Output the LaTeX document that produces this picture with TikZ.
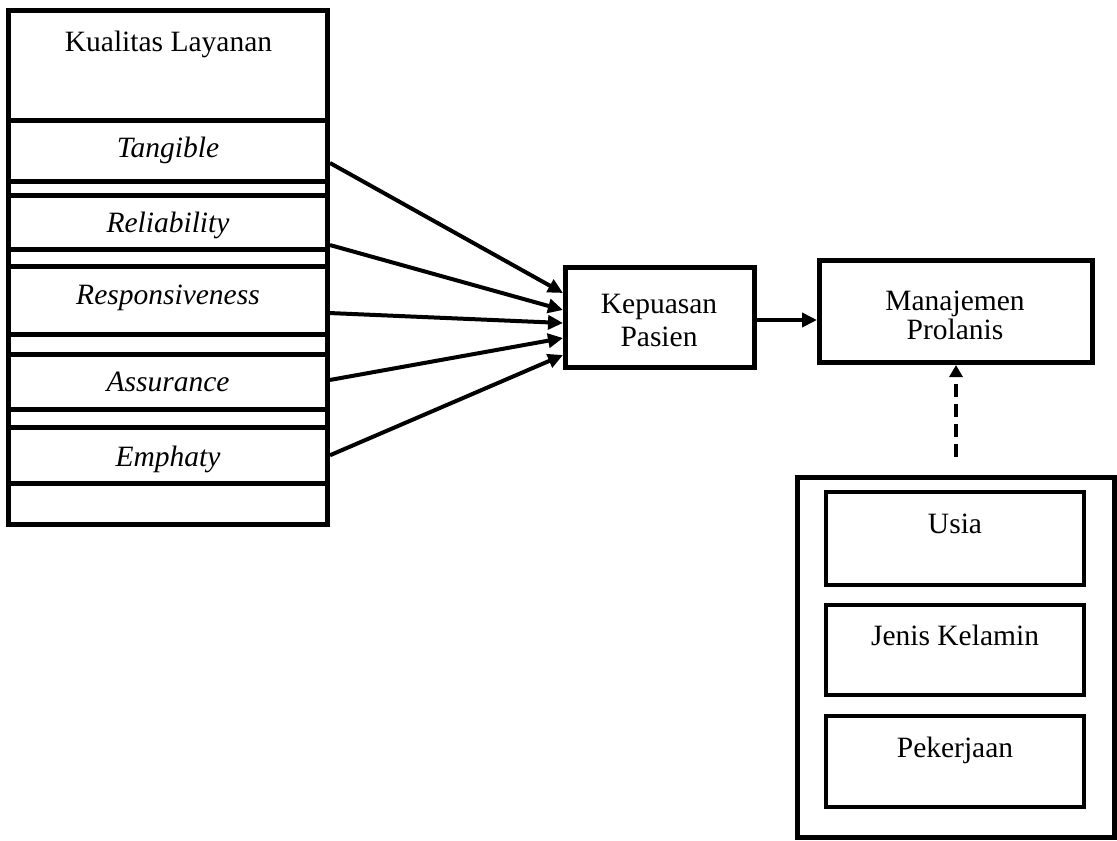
\documentclass[tikz,border=0pt]{standalone}
\usepackage{fontspec}
\setmainfont{Liberation Serif}
\usetikzlibrary{arrows.meta}
\begin{document}
\begin{tikzpicture}[x=0.5pt,y=-0.5pt,
  box/.style={draw,line width=2.5pt,rectangle,inner sep=0pt},
  ibox/.style={draw,line width=2pt,rectangle,inner sep=0pt},
  lbl/.style={anchor=base,inner sep=0pt,font=\fontsize{14.75}{18}\selectfont},
  ilbl/.style={lbl,font=\fontsize{14.75}{18}\selectfont\itshape},
  arr/.style={line width=2pt,-{Triangle[length=7.5pt,width=7pt]}},
  darr/.style={line width=1.75pt,dash pattern=on 6.5pt off 3.5pt,-{Triangle[length=6pt,width=6.5pt]}}]
\useasboundingbox (0,0) rectangle (1117,840);
% left stack
\node[box,minimum width=159.5pt,minimum height=257pt] (kual) at (168,267.5) {};
\node[box,minimum width=159.5pt,minimum height=30.5pt] (tan) at (168,150.5) {};
\node[box,minimum width=159.5pt,minimum height=27.25pt] (rel) at (168,222.25) {};
\node[box,minimum width=159.5pt,minimum height=34.25pt] (res) at (168,300.25) {};
\node[box,minimum width=159.5pt,minimum height=27.75pt] (ass) at (168,381.75) {};
\node[box,minimum width=159.5pt,minimum height=28.25pt] (emp) at (168,455.25) {};
\node[lbl] (kualt) at (168.5,52) {Kualitas Layanan};
\node[ilbl] (tant) at (168,157) {Tangible};
\node[ilbl] (relt) at (168,232.5) {Reliability};
\node[ilbl] (rest) at (168,304) {Responsiveness};
\node[ilbl] (asst) at (168,391.5) {Assurance};
\node[ilbl] (empt) at (168,466) {Emphaty};
% middle
\node[box,minimum width=94.5pt,minimum height=50pt] (kep) at (660,317.5) {};
\node[lbl] (kepa) at (659,313) {Kepuasan};
\node[lbl] (kepb) at (659,346) {Pasien};
\node[box,minimum width=136.5pt,minimum height=51pt] (man) at (956,311.5) {};
\node[lbl] (mana) at (955,310) {Manajemen};
\node[lbl] (manb) at (955,339) {Prolanis};
% right group
\node[box,minimum width=158.5pt,minimum height=180pt] (ctl) at (956,657.5) {};
\node[ibox,minimum width=129.25pt,minimum height=46.25pt] (usia) at (954.75,538.25) {};
\node[ibox,minimum width=129.25pt,minimum height=45.25pt] (jk) at (954.75,649.75) {};
\node[ibox,minimum width=129.25pt,minimum height=45.75pt] (pek) at (954.75,761.25) {};
\node[lbl] (usiat) at (955,533) {Usia};
\node[lbl] (jkt) at (955,645) {Jenis Kelamin};
\node[lbl] (pekt) at (955,757) {Pekerjaan};
% connectors
\draw[arr] ([yshift=-6.25pt]tan.east) -- ([yshift=12.25pt]kep.west);
\draw[arr] ([yshift=-11.4pt]rel.east) -- ([yshift=3.75pt]kep.west);
\draw[arr] ([yshift=-6.4pt]res.east) -- ([yshift=-2.75pt]kep.west);
\draw[arr] ([yshift=0.9pt]ass.east) -- ([yshift=-10.25pt]kep.west);
\draw[arr] (emp.east) -- ([yshift=-18.75pt]kep.west);
\coordinate (k1) at ([yshift=-1.25pt]kep.east);
\draw[arr] (k1) -- (k1 -| man.west);
\draw[darr] ([yshift=9pt]ctl.north) -- (man.south);
\end{tikzpicture}
\end{document}
